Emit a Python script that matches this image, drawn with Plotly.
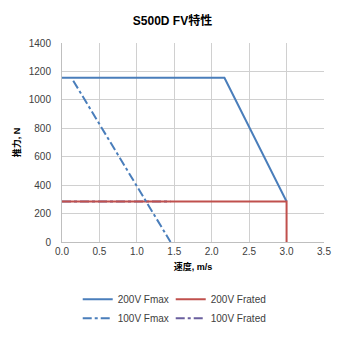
import plotly.graph_objects as go

x_200_fmax = [0.0, 2.17, 3.0]
y_200_fmax = [1155, 1155, 285]
x_200_frated = [0.0, 3.0, 3.0]
y_200_frated = [285, 285, 0]
x_100_fmax = [0.15, 1.45]
y_100_fmax = [1135, 0]
x_100_frated = [0.0, 1.45]
y_100_frated = [285, 285]

x_ticks = [0, 0.5, 1.0, 1.5, 2.0, 2.5, 3.0, 3.5]
x_tick_labels = ["0.0", "0.5", "1.0", "1.5", "2.0", "2.5", "3.0", "3.5"]
y_ticks = [0, 200, 400, 600, 800, 1000, 1200, 1400]

BLUE = "#4A7EBB"
RED = "#C0504D"
PURPLE = "#6A5F9E"

fig = go.Figure()
fig.add_trace(go.Scatter(x=x_100_frated, y=y_100_frated, mode="lines", name="100V Frated",
                         line=dict(color=PURPLE, width=2, dash="dashdot"), legend="legend2", legendrank=2))
fig.add_trace(go.Scatter(x=x_200_fmax, y=y_200_fmax, mode="lines", name="200V Fmax",
                         line=dict(color=BLUE, width=2), legend="legend", legendrank=1))
fig.add_trace(go.Scatter(x=x_200_frated, y=y_200_frated, mode="lines", name="200V Frated",
                         line=dict(color=RED, width=2), legend="legend2", legendrank=1))
fig.add_trace(go.Scatter(x=x_100_fmax, y=y_100_fmax, mode="lines", name="100V Fmax",
                         line=dict(color=BLUE, width=2, dash="dashdot"), legend="legend", legendrank=2))

font_family = "Liberation Sans, Arial, Noto Sans CJK SC, sans-serif"
leg_common = dict(orientation="v", yanchor="top", y=-0.215, xanchor="left", tracegroupgap=0,
                  font=dict(size=10, color="#404040"), itemwidth=30, traceorder="normal",
                  bgcolor="rgba(0,0,0,0)")
fig.update_layout(
    width=345, height=345,
    margin=dict(l=62, r=21, t=43, b=103),
    paper_bgcolor="white", plot_bgcolor="white",
    font=dict(family=font_family, size=10, color="#404040"),
    title=dict(text="<b>S500D FV特性</b>", x=0.5, xanchor="center", y=0.94, yanchor="middle",
               font=dict(size=12, color="#000000")),
    xaxis=dict(range=[0, 3.5], tickvals=x_ticks, ticktext=x_tick_labels,
               showgrid=True, gridcolor="#D0D0D0", gridwidth=1,
               showline=True, linecolor="#BFBFBF", zeroline=False,
               ticks="", tickfont=dict(size=10, color="#404040"),
               title=dict(text="<b>速度, m/s</b>", font=dict(size=9, color="#000000"), standoff=7)),
    yaxis=dict(range=[0, 1400], tickvals=y_ticks,
               showgrid=True, gridcolor="#D0D0D0", gridwidth=1,
               showline=True, linecolor="#BFBFBF", zeroline=False,
               ticks="", ticklabelstandoff=8, tickfont=dict(size=10, color="#404040"),
               title=dict(text="<b>推力, N</b>", font=dict(size=9, color="#000000"), standoff=6)),
    showlegend=True,
    legend=dict(x=0.06, **leg_common),
    legend2=dict(x=0.415, **leg_common),
)
fig.write_html("out.html")
